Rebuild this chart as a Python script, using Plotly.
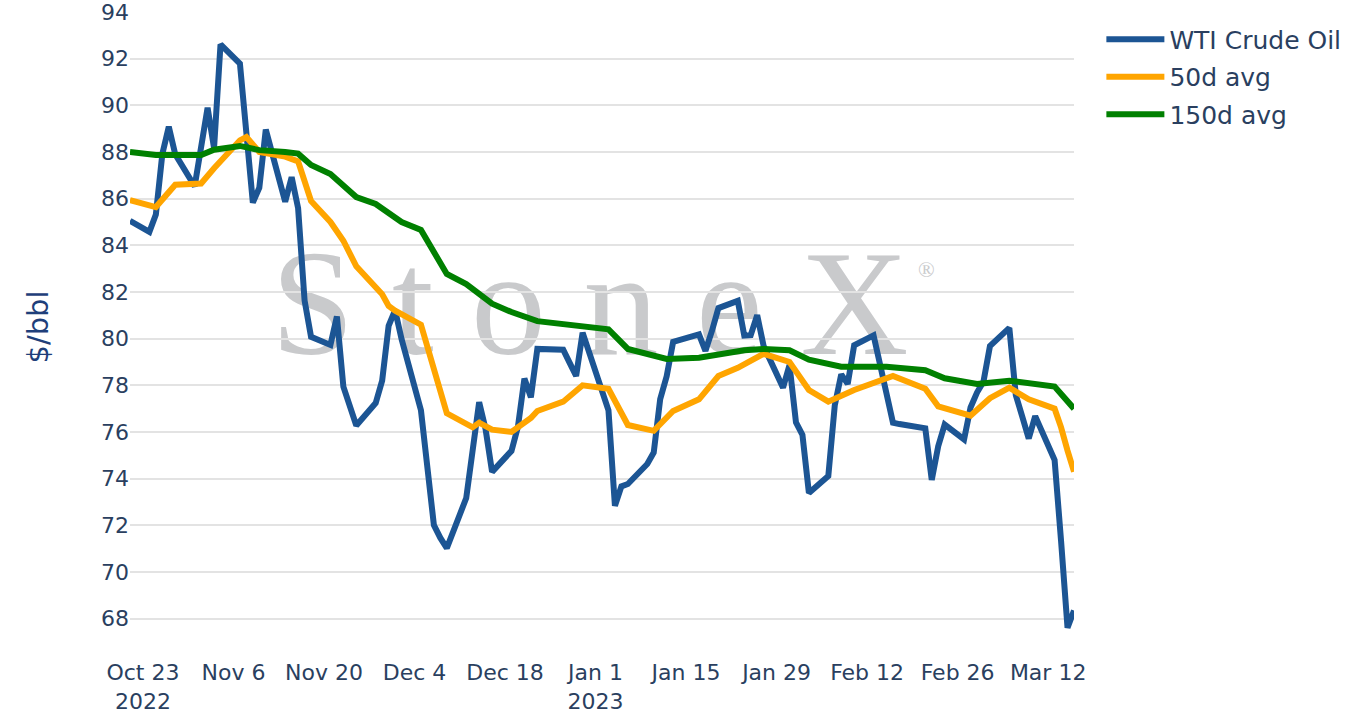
import plotly.graph_objects as go

# ---------------- data ----------------
dates = [
    "2022-10-21", "2022-10-24", "2022-10-25", "2022-10-26", "2022-10-27", "2022-10-28",
    "2022-10-31", "2022-11-01", "2022-11-02", "2022-11-03", "2022-11-04",
    "2022-11-07", "2022-11-08", "2022-11-09", "2022-11-10", "2022-11-11",
    "2022-11-14", "2022-11-15", "2022-11-16", "2022-11-17", "2022-11-18",
    "2022-11-21", "2022-11-22", "2022-11-23", "2022-11-25",
    "2022-11-28", "2022-11-29", "2022-11-30", "2022-12-01", "2022-12-02",
    "2022-12-05", "2022-12-06", "2022-12-07", "2022-12-08", "2022-12-09",
    "2022-12-12", "2022-12-13", "2022-12-14", "2022-12-15", "2022-12-16",
    "2022-12-19", "2022-12-20", "2022-12-21", "2022-12-22", "2022-12-23",
    "2022-12-27", "2022-12-28", "2022-12-29", "2022-12-30",
    "2023-01-03", "2023-01-04", "2023-01-05", "2023-01-06",
    "2023-01-09", "2023-01-10", "2023-01-11", "2023-01-12", "2023-01-13",
    "2023-01-17", "2023-01-18", "2023-01-19", "2023-01-20",
    "2023-01-23", "2023-01-24", "2023-01-25", "2023-01-26", "2023-01-27",
    "2023-01-30", "2023-01-31", "2023-02-01", "2023-02-02", "2023-02-03",
    "2023-02-06", "2023-02-07", "2023-02-08", "2023-02-09", "2023-02-10",
    "2023-02-13", "2023-02-14", "2023-02-15", "2023-02-16", "2023-02-17",
    "2023-02-21", "2023-02-22", "2023-02-23", "2023-02-24",
    "2023-02-27", "2023-02-28", "2023-03-01", "2023-03-02", "2023-03-03",
    "2023-03-06", "2023-03-07", "2023-03-08", "2023-03-09", "2023-03-10",
    "2023-03-13", "2023-03-14", "2023-03-15", "2023-03-16",
]
wti = [
    85.05, 84.58, 85.32, 87.91, 89.08, 87.90,
    86.53, 88.37, 89.90, 88.17, 92.61,
    91.79, 88.91, 85.83, 86.47, 88.96,
    85.87, 86.92, 85.59, 81.64, 80.08,
    79.73, 80.95, 77.94, 76.28,
    77.24, 78.20, 80.55, 81.22, 79.98,
    76.93, 74.25, 72.01, 71.46, 71.02,
    73.17, 75.39, 77.28, 76.11, 74.29,
    75.19, 76.23, 78.29, 77.49, 79.56,
    79.53, 78.96, 78.40, 80.26,
    76.93, 72.84, 73.67, 73.77,
    74.63, 75.12, 77.41, 78.39, 79.86,
    80.18, 79.48, 80.33, 81.31,
    81.62, 80.13, 80.15, 81.01, 79.68,
    77.90, 78.87, 76.41, 75.88, 73.39,
    74.11, 77.14, 78.47, 78.06, 79.72,
    80.14, 78.90, 77.60, 76.40, 76.34,
    76.16, 73.95, 75.39, 76.32,
    75.68, 77.05, 77.69, 78.16, 79.68,
    80.46, 77.58, 76.66, 75.72, 76.68,
    74.80, 71.33, 67.61, 68.35,
]

ma50_dates = [
    "2022-10-21", "2022-10-25", "2022-10-28", "2022-11-01", "2022-11-03", "2022-11-04",
    "2022-11-07", "2022-11-08", "2022-11-10", "2022-11-14", "2022-11-16", "2022-11-18",
    "2022-11-21", "2022-11-23", "2022-11-25", "2022-11-28", "2022-11-29", "2022-11-30",
    "2022-12-01", "2022-12-05", "2022-12-09", "2022-12-13", "2022-12-14", "2022-12-16",
    "2022-12-19", "2022-12-22", "2022-12-23", "2022-12-27", "2022-12-30", "2023-01-03",
    "2023-01-06", "2023-01-10", "2023-01-13", "2023-01-17", "2023-01-20", "2023-01-23",
    "2023-01-27", "2023-01-31", "2023-02-03", "2023-02-06", "2023-02-10", "2023-02-16",
    "2023-02-21", "2023-02-23", "2023-02-27", "2023-02-28", "2023-03-02", "2023-03-03",
    "2023-03-06", "2023-03-09", "2023-03-13", "2023-03-14", "2023-03-15", "2023-03-16",
]
ma50 = [
    85.94, 85.64, 86.60, 86.65, 87.30, 87.60,
    88.50, 88.64, 88.00, 87.80, 87.60, 85.90,
    85.00, 84.20, 83.10, 82.20, 81.90, 81.40,
    81.20, 80.60, 76.80, 76.20, 76.40, 76.10,
    76.00, 76.60, 76.90, 77.30, 78.00, 77.85,
    76.30, 76.05, 76.90, 77.40, 78.40, 78.75,
    79.35, 79.00, 77.80, 77.30, 77.80, 78.40,
    77.85, 77.10, 76.80, 76.70, 77.20, 77.45,
    77.90, 77.40, 77.00, 76.20, 75.20, 74.30,
]

ma150_dates = [
    "2022-10-21", "2022-10-25", "2022-11-01", "2022-11-03", "2022-11-07", "2022-11-10",
    "2022-11-14", "2022-11-16", "2022-11-18", "2022-11-21", "2022-11-25", "2022-11-28",
    "2022-12-02", "2022-12-05", "2022-12-09", "2022-12-12", "2022-12-16", "2022-12-19",
    "2022-12-23", "2022-12-28", "2023-01-03", "2023-01-06", "2023-01-12", "2023-01-17",
    "2023-01-24", "2023-01-27", "2023-01-31", "2023-02-03", "2023-02-08", "2023-02-15",
    "2023-02-21", "2023-02-24", "2023-03-01", "2023-03-06", "2023-03-13", "2023-03-16",
]
ma150 = [
    88.00, 87.87, 87.87, 88.10, 88.26, 88.08,
    88.00, 87.93, 87.44, 87.06, 86.07, 85.77,
    85.00, 84.66, 82.77, 82.34, 81.50, 81.14,
    80.75, 80.60, 80.40, 79.56, 79.13, 79.18,
    79.50, 79.56, 79.50, 79.10, 78.80, 78.80,
    78.65, 78.30, 78.06, 78.20, 77.95, 77.00,
]

series_names = ["WTI Crude Oil", "50d avg", "150d avg"]
series_colors = ["#1c5594", "#ffa500", "#008000"]
y_ticks = [68, 70, 72, 74, 76, 78, 80, 82, 84, 86, 88, 90, 92, 94]
x_tickvals = ["2022-10-23", "2022-11-06", "2022-11-20", "2022-12-04", "2022-12-18",
              "2023-01-01", "2023-01-15", "2023-01-29", "2023-02-12", "2023-02-26",
              "2023-03-12"]
x_ticktext = ["Oct 23<br>2022", "Nov 6", "Nov 20", "Dec 4", "Dec 18",
              "Jan 1<br>2023", "Jan 15", "Jan 29", "Feb 12", "Feb 26", "Mar 12"]

FONT = "DejaVu Sans"
TICK_COLOR = "#2a3f5f"

fig = go.Figure()
for name, xs, ys, col in [
    (series_names[0], dates, wti, series_colors[0]),
    (series_names[1], ma50_dates, ma50, series_colors[1]),
    (series_names[2], ma150_dates, ma150, series_colors[2]),
]:
    fig.add_trace(go.Scatter(
        x=xs, y=ys, mode="lines", name=name,
        line=dict(color=col, width=6),
        legendgroup=name,
    ))

# StoneX watermark, drawn below the traces
fig.add_shape(
    type="rect", xref="paper", yref="paper",
    x0=0.0, x1=0.974, y0=0.424, y1=0.704,
    line=dict(width=0), fillcolor="rgba(0,0,0,0)", layer="below",
    label=dict(text="S t o n e X", textposition="middle center",
               font=dict(family="Liberation Serif", size=150, color="#c9cacc")),
)
fig.add_shape(
    type="rect", xref="paper", yref="paper",
    x0=0.8085, x1=0.8785, y0=0.565, y1=0.625,
    line=dict(width=0), fillcolor="rgba(0,0,0,0)", layer="below",
    label=dict(text="®", textposition="middle center",
               font=dict(family="Liberation Serif", size=22, color="#c9cacc")),
)

fig.update_layout(
    width=1358, height=726,
    margin=dict(l=130, r=281, t=12, b=84),
    paper_bgcolor="white", plot_bgcolor="white",
    font=dict(family=FONT, size=22, color=TICK_COLOR),
    showlegend=True,
    legend=dict(
        x=1.029, y=0.993, xanchor="left", yanchor="top",
        font=dict(family=FONT, size=25, color=TICK_COLOR),
        itemwidth=58, traceorder="grouped", tracegroupgap=2,
        bgcolor="rgba(0,0,0,0)",
    ),
    xaxis=dict(
        type="date",
        range=[dates[0], dates[-1]],
        tickvals=x_tickvals, ticktext=x_ticktext,
        showgrid=False, zeroline=False, showline=False,
        automargin=False, ticklabelstandoff=15,
        tickfont=dict(family=FONT, size=22, color=TICK_COLOR),
    ),
    yaxis=dict(
        range=[67, 94],
        tickvals=y_ticks,
        showgrid=True, gridcolor="#e3e3e3", gridwidth=2,
        zeroline=False, showline=False, automargin=False,
        ticklabeloverflow="allow",
        tickfont=dict(family=FONT, size=22, color=TICK_COLOR),
        title=dict(text="$/bbl", font=dict(family=FONT, size=29, color="#1f3f7a"),
                   standoff=43),
    ),
)

fig.write_html("out.html", config={"displayModeBar": False},
               post_script="document.body.style.margin='0px';")
